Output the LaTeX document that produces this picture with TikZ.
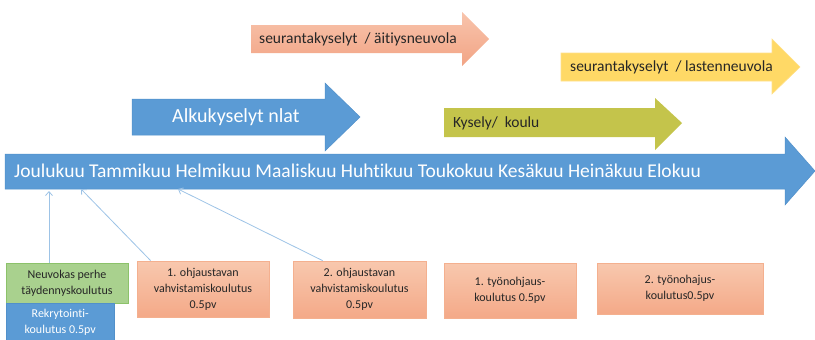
\documentclass[tikz,border=0pt]{standalone}
\usepackage{fontspec}
\setmainfont{Carlito}[Ligatures=CommonOff]
\usetikzlibrary{arrows.meta}
\definecolor{mblue}{HTML}{5B9BD5}
\definecolor{mbluedark}{HTML}{4A88C2}
\definecolor{lblue}{HTML}{9DC3E6}
\definecolor{pinkT}{HTML}{F8C4AC}
\definecolor{pinkB}{HTML}{F2A485}
\definecolor{orT}{HTML}{F8C8AE}
\definecolor{orB}{HTML}{F4A988}
\definecolor{orE}{HTML}{F4B08F}
\definecolor{myel}{HTML}{FFD966}
\definecolor{myelE}{HTML}{FFE08A}
\definecolor{olive}{HTML}{C4C44B}
\definecolor{gfill}{HTML}{A9D18E}
\definecolor{gedge}{HTML}{8CC26A}
\definecolor{txt}{HTML}{262626}
\tikzset{
  x=1pt,y=-1pt,
  lbl/.style={inner sep=0pt, anchor=west},
  smallf/.style={font=\fontsize{15.5}{17}\selectfont},
  boxf/.style={font=\fontsize{12}{16}\selectfont},
  obox/.style={draw=orE, line width=0.8pt, top color=orT, bottom color=orB, text=txt, align=center, boxf, inner sep=0pt},
  conn/.style={draw=lblue, line width=0.8pt, -{Straight Barb[length=4pt,width=7pt]}},
}
\begin{document}
\begin{tikzpicture}
\useasboundingbox (0,0) rectangle (815,340);
% pink arrow
\path[top color=pinkT, bottom color=pinkB] (251,25) -- (462,25) -- (462,12) -- (489,39) -- (462,66) -- (462,53) -- (251,53) -- cycle;
\node[lbl, text=txt, smallf] (pinkt) at (259,39.5) {seurantakyselyt~ / äitiysneuvola};
% yellow arrow
\path[fill=myel, draw=myelE, line width=0.6pt] (561,53) -- (772,53) -- (772,39) -- (800,67) -- (772,94) -- (772,81) -- (561,81) -- cycle;
\node[lbl, text=txt, smallf] (yelt) at (570,67) {seurantakyselyt~ / lastenneuvola};
% blue Alku arrow
\path[fill=mblue, draw=mbluedark!60!mblue, line width=0.5pt] (132,99) -- (325,99) -- (325,83) -- (360,117) -- (325,151) -- (325,135) -- (132,135) -- cycle;
\node[lbl, text=white, font=\fontsize{20}{22}\selectfont] (alku) at (172,117) {Alkukyselyt nlat};
% olive arrow
\path[fill=olive] (444,108) -- (655,108) -- (655,98) -- (682,123) -- (655,150) -- (655,137) -- (444,137) -- cycle;
\node[lbl, text=txt, smallf] (kysely) at (453,123) {Kysely/~ koulu};
% main timeline
\path[fill=mblue, draw=mbluedark!60!mblue, line width=0.5pt] (5,154) -- (785,154) -- (785,137) -- (815,171) -- (785,205) -- (785,189) -- (5,189) -- cycle;
\node[lbl, text=white, font=\fontsize{19.5}{21}\selectfont] (months) at (14,171) {Joulukuu Tammikuu Helmikuu Maaliskuu Huhtikuu Toukokuu Kesäkuu Heinäkuu Elokuu};
\coordinate (t1) at (49,191);
\coordinate (t2) at (81,189);
\coordinate (t3) at (178,189);
% boxes
\node[draw=gedge, fill=gfill, line width=0.8pt, text=txt, align=center, boxf, inner sep=0pt, minimum width=122pt, minimum height=40pt] (green) at (67,283) {Neuvokas perhe\\täydennyskoulutus};
\node[fill=mblue, draw=mbluedark!60!mblue, line width=0.5pt, text=white, align=center, boxf, inner sep=0pt, minimum width=108pt, minimum height=38pt, anchor=north west] (rekry) at (6,303) {Rekrytointi-\\koulutus 0.5pv};
\node[obox, minimum width=132pt, minimum height=56pt] (o1) at (203,289) {1. ohjaustavan\\vahvistamiskoulutus\\0.5pv};
\node[obox, minimum width=133pt, minimum height=57pt] (o2) at (359.5,289.5) {2. ohjaustavan\\vahvistamiskoulutus\\0.5pv};
\node[obox, minimum width=132pt, minimum height=55pt] (o3) at (510,290.5) {1. työnohjaus-\\koulutus 0.5pv};
\node[obox, minimum width=166pt, minimum height=51pt] (o4) at (680,288.5) {2. työnohajus-\\koulutus0.5pv};
% connectors
\draw[conn] (green.north -| t1) -- (t1);
\draw[conn] (o1.north west) ++(14,0) coordinate (s2) (s2) -- (t2);
\draw[conn] (o2.north west) ++(30,0) coordinate (s3) (s3) -- (t3);
\end{tikzpicture}
\end{document}
